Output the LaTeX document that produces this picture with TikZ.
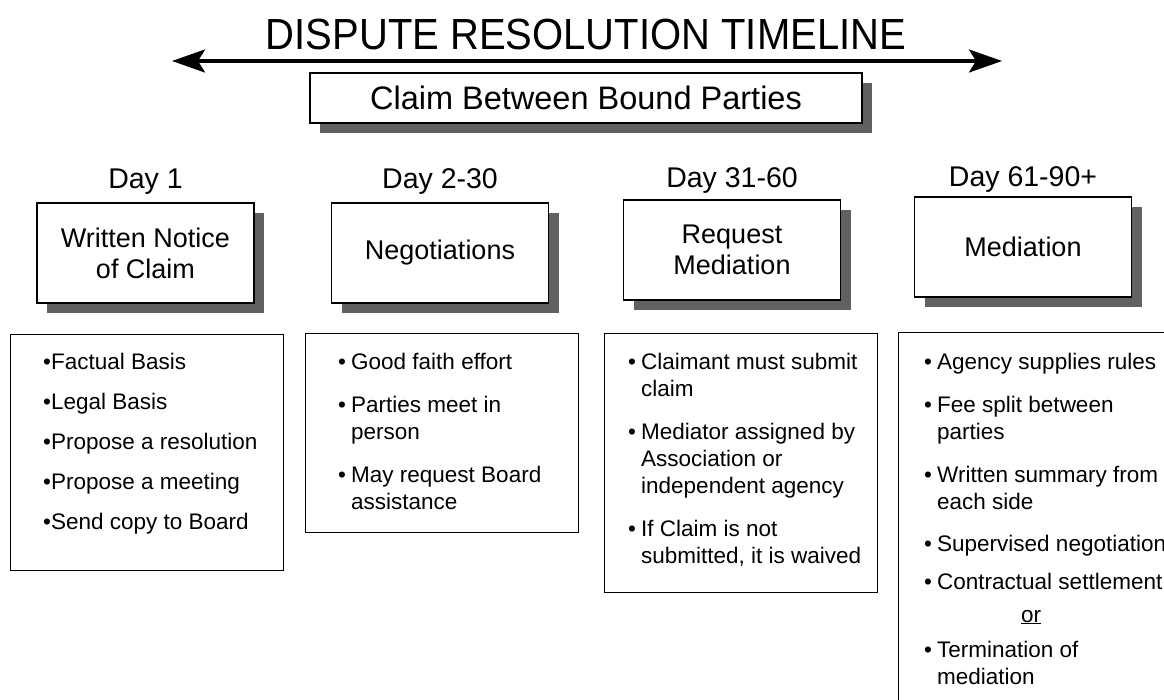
\documentclass[tikz,border=0pt]{standalone}
\usepackage{fontspec}
\setmainfont{Liberation Sans}
\usetikzlibrary{arrows.meta,shadows}
\newcommand\bul{\makebox[13pt][l]{•}}
\tikzset{
  shadowed/.style={drop shadow={shadow xshift=10pt, shadow yshift=-10pt, fill=black!62, opacity=1}},
  claimbox/.style={draw=black, line width=1.8pt, fill=white, shadowed, minimum width=552pt, minimum height=50pt, inner sep=0pt, font=\fontsize{32.5}{36}\selectfont},
  stagebox/.style={draw=black, line width=1.8pt, fill=white, shadowed, minimum width=217pt, minimum height=100pt, inner sep=0pt, align=center, font=\fontsize{27}{31}\selectfont},
  listbox/.style={draw=black, line width=1.3pt, fill=white, minimum width=273pt, inner sep=0pt, anchor=north west},
  daylabel/.style={anchor=base, inner sep=0pt, font=\fontsize{28.5}{32}\selectfont},
  listtext/.style={anchor=base west, inner sep=0pt, font=\fontsize{22.5}{27}\selectfont},
  timeline/.style={line width=3.2pt, {Stealth[length=33pt,width=23pt,inset=7pt]}-{Stealth[length=33pt,width=23pt,inset=7pt]}}
}
\begin{document}
\begin{tikzpicture}[x=1pt,y=-1pt]
\useasboundingbox[fill=white] (0,0) rectangle (1164,699);
% title
\node[anchor=base, inner sep=0pt, font=\fontsize{40}{44}\selectfont] (title) at (586,49) {\scalebox{1}[1.09]{DISPUTE RESOLUTION TIMELINE}};
\coordinate (tl) at (172,61);
\coordinate (tr) at (1002,61);
\draw[timeline] (tl) -- (tr);
\node[claimbox] (claim) at (586,98) {Claim Between Bound Parties};
% day labels
\node[daylabel] (d1) at (145.5,188) {Day 1};
\node[daylabel] (d2) at (440,188) {Day 2-30};
\node[daylabel] (d3) at (732,187) {Day 31-60};
\node[daylabel] (d4) at (1023,186) {Day 61-90+};
% stage boxes
\node[stagebox] (s1) at (145.5,253) {Written Notice\\of Claim};
\node[stagebox] (s2) at (440,253) {Negotiations};
\node[stagebox] (s3) at (732,250) {Request\\Mediation};
\node[stagebox] (s4) at (1023,247) {Mediation};
% list boxes
\node[listbox, minimum height=236pt] (l1) at (10,334) {};
\node[listbox, minimum height=199pt] (l2) at (305,333) {};
\node[listbox, minimum height=259pt] (l3) at (604,333) {};
\node[listbox, minimum height=420pt] (l4) at (898,332) {};
% list texts
\node[listtext] (t1) at (43,369) {\begin{tabular}[t]{@{}l@{}}
•Factual Basis\\[13pt]
•Legal Basis\\[13pt]
•Propose a resolution\\[13pt]
•Propose a meeting\\[13pt]
•Send copy to Board
\end{tabular}};
\node[listtext] (t2) at (338,369) {\begin{tabular}[t]{@{}l@{}l@{}}
\bul & Good faith effort\\[16pt]
\bul & Parties meet in\\
 & person\\[16pt]
\bul & May request Board\\
 & assistance
\end{tabular}};
\node[listtext] (t3) at (628,369) {\begin{tabular}[t]{@{}l@{}l@{}}
\bul & Claimant must submit\\
 & claim\\[16pt]
\bul & Mediator assigned by\\
 & Association or\\
 & independent agency\\[16pt]
\bul & If Claim is not\\
 & submitted, it is waived
\end{tabular}};
\node[listtext] (t4) at (924,369) {\begin{tabular}[t]{@{}l@{}l@{}}
\bul & Agency supplies rules\\[16pt]
\bul & Fee split between\\
 & parties\\[16pt]
\bul & Written summary from\\
 & each side\\[15pt]
\bul & Supervised negotiation\\[11pt]
\bul & Contractual settlement\\[6pt]
 & \hspace*{84pt}\underline{or}\\[8pt]
\bul & Termination of\\
 & mediation
\end{tabular}};
\end{tikzpicture}
\end{document}
